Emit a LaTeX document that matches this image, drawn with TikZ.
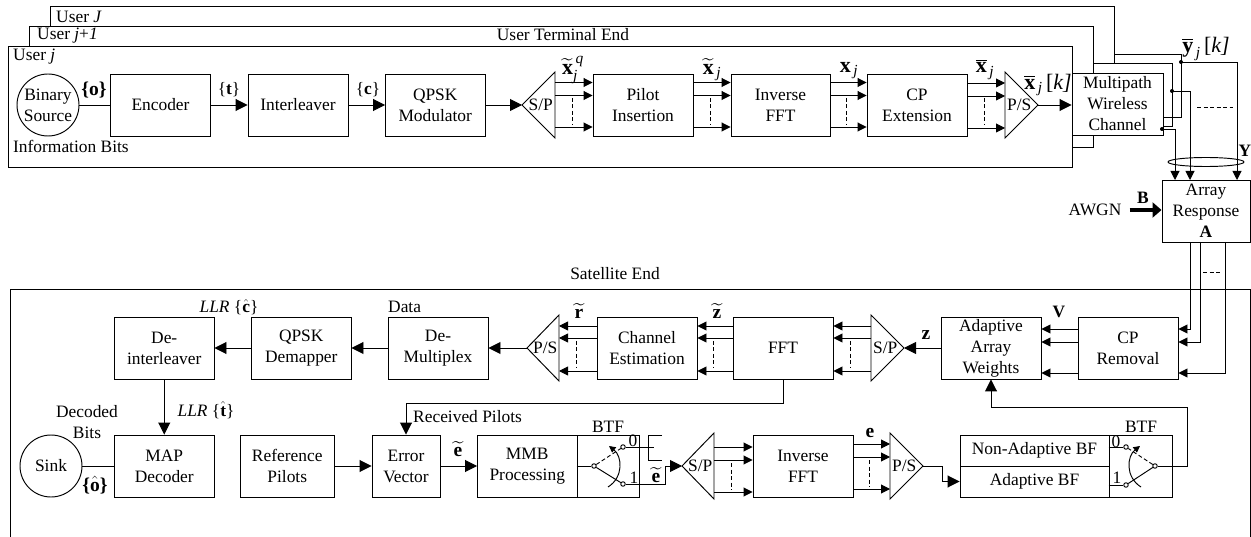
\documentclass[tikz,border=0pt]{standalone}
\usepackage{amsmath}
\usepackage{fontspec}
\setmainfont{Liberation Serif}
\usetikzlibrary{arrows.meta}
\newcommand{\bv}[1]{\mbox{\textbf{#1}}}
\newcommand{\itx}[1]{\text{\itshape #1}}
\tikzset{
  txt/.style={inner sep=0pt,align=center,font=\fontsize{17.4}{21}\selectfont},
  lab/.style={txt,font=\fontsize{22}{24}\selectfont},
  labs/.style={txt,font=\fontsize{19.5}{22}\selectfont},
  boxn/.style={txt,draw,fill=white,line width=.95pt},
  wire/.style={line width=.95pt,draw=black},
  bigarr/.style={wire,-{Triangle[length=12pt,width=12pt]}},
  smallarr/.style={wire,-{Triangle[length=9pt,width=9pt]}},
  dsh/.style={line width=.9pt,dash pattern=on 4pt off 2.5pt},
  dot/.style={fill=black,circle,inner sep=0pt,minimum size=4pt},
  cont/.style={draw,fill=white,line width=.9pt,circle,inner sep=0pt,minimum size=4.5pt},
}
\newcommand{\bx}[6]{%
  \pgfmathsetmacro{\bw}{#4-#2}\pgfmathsetmacro{\bh}{#5-#3}%
  \pgfmathsetmacro{\bcx}{(#2+#4)/2}\pgfmathsetmacro{\bcy}{(#3+#5)/2}%
  \node[boxn,minimum width=\bw pt,minimum height=\bh pt] (#1) at (\bcx,\bcy) {#6};}
\newcommand{\tri}[6]{%
  \coordinate (#1-a) at (#2,#4);\coordinate (#1-b) at (#3,#4);%
  \pgfmathsetmacro{\tu}{#4-#5}\pgfmathsetmacro{\td}{#4+#5}%
  \pgfmathsetmacro{\tc}{#3+0.43*(#2-#3)}%
  \draw[wire,line join=miter] (#2,#4)--(#3,\tu)--(#3,\td)--cycle;%
  \node[txt] (#1) at (\tc,#4) {#6};}
\newcommand{\triple}[7]{%
  \draw[smallarr] (#1 |- 0,#3) -- (#2 |- 0,#3);%
  \draw[smallarr] (#1 |- 0,#4) -- (#2 |- 0,#4);%
  \draw[smallarr] (#1 |- 0,#5) -- (#2 |- 0,#5);%
  \draw[dsh] (#6,#7) -- ++(0,27);}
\begin{document}
\begin{tikzpicture}[x=1pt,y=-1pt]
\useasboundingbox (0,0) rectangle (1251,537);
% --- user enclosures
\draw[wire] (50,26)--(50,6)--(1114,6)--(1114,63);
\draw[wire] (1114,54)--(1181,54)--(1181,117)--(1163,117);
\draw[wire] (29,46)--(29,26)--(1093,26)--(1093,147)--(1072,147);
\draw[wire] (1093,63)--(1172,63)--(1172,126)--(1163,126);
\draw[wire] (8,46) rectangle (1072,167);
\node[txt,anchor=west] (uJ) at (56,17) {User \textit{J}};
\node[txt,anchor=west] (uj1) at (37,36) {User \textit{j}+\textit{1}};
\node[txt,anchor=west] (uj) at (13,57) {User \textit{j}};
\node[txt] (ute) at (563,35) {User Terminal End};
\node[txt,anchor=west] (ib) at (13,146) {Information Bits};
% --- top chain
\node[boxn,circle,minimum size=62pt] (src) at (48,105) {Binary\\Source};
\bx{enc}{110.5}{74}{210.5}{136}{Encoder}
\bx{intl}{248}{74}{348}{136}{Interleaver}
\bx{qpsk}{385.5}{74}{485}{136}{QPSK\\Modulator}
\tri{spa}{522}{555}{105}{33}{S/P}
\bx{pil}{593}{74}{693}{136}{Pilot\\Insertion}
\bx{ifa}{731}{74}{830}{136}{Inverse\\FFT}
\bx{cpe}{867}{74}{967}{136}{CP\\Extension}
\tri{psa}{1038}{1005}{105}{33}{P/S}
\bx{mwc}{1072}{73}{1163}{135}{Multipath\\Wireless\\Channel}
\draw[wire] (src)--(enc);
\draw[bigarr] (enc)--(intl);
\draw[bigarr] (intl)--(qpsk);
\draw[bigarr] (qpsk)--(spa-a);
\triple{spa-b}{pil.west}{82.5}{95.5}{127}{572}{98}
\triple{pil.east}{ifa.west}{82.5}{95.5}{127}{710}{98}
\triple{ifa.east}{cpe.west}{82.5}{95.5}{127}{846}{98}
\triple{cpe.east}{psa-b}{83}{96}{128}{984}{98}
\draw[bigarr] (psa-a)--(mwc.west |- psa-a);
\node[labs] (lo) at (94,90) {\textbf{\{o\}}};
\node[txt] (lt) at (229,90) {\{\textbf{t}\}};
\node[txt] (lc) at (368,90) {\{\textbf{c}\}};
\node[lab] (lxq) at (573,70) {$\widetilde{\bv{x}}_{\itx{j}}^{\,\itx{q}}$};
\node[lab] (lxt) at (712,70) {$\widetilde{\bv{x}}_{\,\itx{j}}$};
\node[lab] (lx) at (849,71) {$\bv{x}_{\,\itx{j}}$};
\node[lab] (lxb) at (985,69) {$\overline{\bv{x}}_{\,\itx{j}}$};
\node[lab] (lxk) at (1048,85) {$\overline{\bv{x}}_{\,\itx{j}}\,\text{[\itshape k]}$};
% --- channel to array
\coordinate (d1) at (1181,62);
\coordinate (d2) at (1172,91);
\coordinate (d3) at (1162,129);
\bx{arr}{1162}{180}{1250}{242}{Array\\Response\\\textbf{A}}
\coordinate (a1) at (1175,180);
\coordinate (a2) at (1190,180);
\coordinate (a3) at (1237,180);
\draw[smallarr] (d1)-|(a3);
\draw[smallarr] (d2)-|(a2);
\draw[smallarr] (d3)-|(a1);
\node[dot] at (d1) {};
\node[dot] at (d2) {};
\node[dot] at (d3) {};
\draw[dsh] (1197,107)--(1233,107);
\draw[wire] (1206,162) ellipse [x radius=38,y radius=4.5];
\node[lab] (ly) at (1206,49) {$\overline{\bv{y}}_{\,\itx{j}}\,\text{[\itshape k]}$};
\node[txt] (lY) at (1245,151) {\textbf{Y}};
\node[txt] (awgn) at (1095,210) {AWGN};
\node[txt] (lB) at (1143,198) {\textbf{B}};
\draw[wire,line width=4pt,-{Triangle[length=9pt,width=15pt]}] (awgn.east)++(8,0)--(arr.west |- awgn);
% --- satellite enclosure
\draw[wire] (10.5,537)--(10.5,289)--(1250,289)--(1250,537);
\node[txt] (sat) at (615,274) {Satellite End};
% --- middle row
\bx{dei}{114.5}{317}{214}{379}{De-\\interleaver}
\bx{qdm}{251.5}{317}{351}{379}{QPSK\\Demapper}
\bx{dmx}{388}{317}{488}{379}{De-\\Multiplex}
\tri{psb}{527}{559}{348}{33}{P/S}
\bx{che}{597}{317}{697}{379}{Channel\\Estimation}
\bx{fft}{733}{317}{833}{379}{FFT}
\tri{spb}{904}{871}{348}{33}{S/P}
\bx{aaw}{941}{317}{1041}{379}{Adaptive\\Array\\Weights}
\bx{cpr}{1078}{317}{1178}{379}{CP\\Removal}
\draw[bigarr] (dmx)--(qdm);
\draw[bigarr] (qdm)--(dei);
\draw[bigarr] (psb-a)--(dmx.east |- psb-a);
\triple{che.west}{psb-b}{326}{338}{371}{576}{341}
\triple{fft.west}{che.east}{326}{338}{371}{713}{341}
\triple{spb-b}{fft.east}{326}{338}{371}{850}{341}
\draw[bigarr] (aaw.west |- spb-a)--(spb-a);
\draw[smallarr] (cpr.west |- 0,329)--(aaw.east |- 0,329);
\draw[smallarr] (cpr.west |- 0,342)--(aaw.east |- 0,342);
\draw[smallarr] (cpr.west |- 0,373)--(aaw.east |- 0,373);
\draw[smallarr] (arr.south -| a2)|-(cpr.east |- 0,329);
\draw[smallarr] (1200,242)|-(cpr.east |- 0,342);
\draw[smallarr] (1225,242)|-(cpr.east |- 0,373);
\draw[dsh] (1203,272)--(1220,272);
\node[txt] (lV) at (1059,312) {\textbf{V}};
\node[labs] (lz) at (926,335) {\textbf{z}};
\node[labs] (lzt) at (717,311) {$\widetilde{\bv{z}}$};
\node[labs] (lrt) at (579,311) {$\widetilde{\bv{r}}$};
\node[txt] (lllc) at (229,307) {\textit{LLR} \{$\hat{\bv{c}}$\}};
\node[txt,anchor=west] (ldata) at (388,307) {Data};
% --- bottom row
\node[boxn,circle,minimum size=62pt] (snk) at (51,466) {Sink};
\bx{map}{114.5}{435}{214}{497}{MAP\\Decoder}
\bx{ref}{240.5}{435}{334}{497}{Reference\\Pilots}
\bx{err}{372}{435}{440}{497}{Error\\Vector}
\bx{mmb}{477.5}{435}{577}{497}{MMB\\Processing}
\bx{bt1}{577}{435}{639}{497}{}
\tri{spc}{682}{714}{466}{33}{S/P}
\bx{ifb}{753}{435}{853}{497}{Inverse\\FFT}
\tri{psc}{923}{890}{466}{33}{P/S}
\bx{nab}{960}{435}{1109}{466}{Non-Adaptive BF}
\bx{adb}{960}{466}{1109}{497}{Adaptive BF}
\bx{bt2}{1109}{435}{1172}{497}{}
\draw[bigarr] (dei)--(map);
\draw[wire] (snk)--(map);
\draw[bigarr] (ref)--(err);
\draw[bigarr] (err)--(mmb);
\draw[bigarr] (fft.south -| 783,0)|-(406,403)--(err.north -| 406,0);
\triple{spc-b}{ifb.west}{447}{460}{492}{731}{463}
\triple{ifb.east}{psc-b}{444}{457}{489}{869}{460}
\node[txt] (lllt) at (206,410) {\textit{LLR} \{$\hat{\bv{t}}$\}};
\node[txt] (ldb) at (87,422.5) {Decoded\\Bits};
\node[labs] (loh) at (95,485) {\textbf{\{}$\hat{\bv{o}}$\textbf{\}}};
\node[txt,anchor=west] (lrp) at (413,417) {Received Pilots};
\node[labs] (le1) at (458,449) {$\widetilde{\bv{e}}$};
\node[labs] (le2) at (656,475) {$\widetilde{\bv{e}}$};
\node[labs] (le3) at (870,433) {\textbf{e}};
% left switch
\node[txt] (bl1) at (608,427) {BTF};
\node[txt] (z1) at (633,441) {0};
\node[txt] (o1) at (634,478) {1};
\node[cont] (p1) at (594,466) {};
\node[cont] (c1a) at (623,447) {};
\node[cont] (c1b) at (623,484) {};
\draw[wire] (bt1.west |- p1)--(p1);
\draw[dsh,line width=.9pt] (p1)--(c1a);
\draw[wire] (p1)--(c1b);
\draw[wire,-{Triangle[length=6.5pt,width=6.5pt]}] (608,487) .. controls (624,477) and (622,456) .. (609,446);
\draw[wire] (c1a)--(654,447);
\draw[wire] (662,435)--(648,435)--(648,460)--(662,460);
\coordinate (c1k) at (665,466);
\draw[wire] (c1b)-|(c1k);
\draw[bigarr] (c1k)--(spc-a);
% right switch
\node[txt] (bl2) at (1141,427) {BTF};
\node[txt] (z2) at (1116,442) {0};
\node[txt] (o2) at (1117,478) {1};
\node[cont] (p2) at (1155,466) {};
\node[cont] (c2a) at (1126,447) {};
\node[cont] (c2b) at (1126,485) {};
\draw[wire] (bt2.west |- c2a)--(c2a);
\draw[wire] (bt2.west |- c2b)--(c2b);
\draw[dsh] (p2)--(c2a);
\draw[wire] (p2)--(c2b);
\draw[wire,-{Triangle[length=6.5pt,width=6.5pt]}] (1141,487) .. controls (1125,477) and (1127,456) .. (1140,446);
\coordinate (c2k) at (1187,407);
\draw[wire] (p2)-|(c2k);
\draw[bigarr] (c2k)-|(aaw.south -| 991,0);
\coordinate (c3k) at (942,466);
\draw[wire] (psc-a)--(c3k);
\draw[bigarr] (c3k)|-(adb.west);
\end{tikzpicture}
\end{document}
